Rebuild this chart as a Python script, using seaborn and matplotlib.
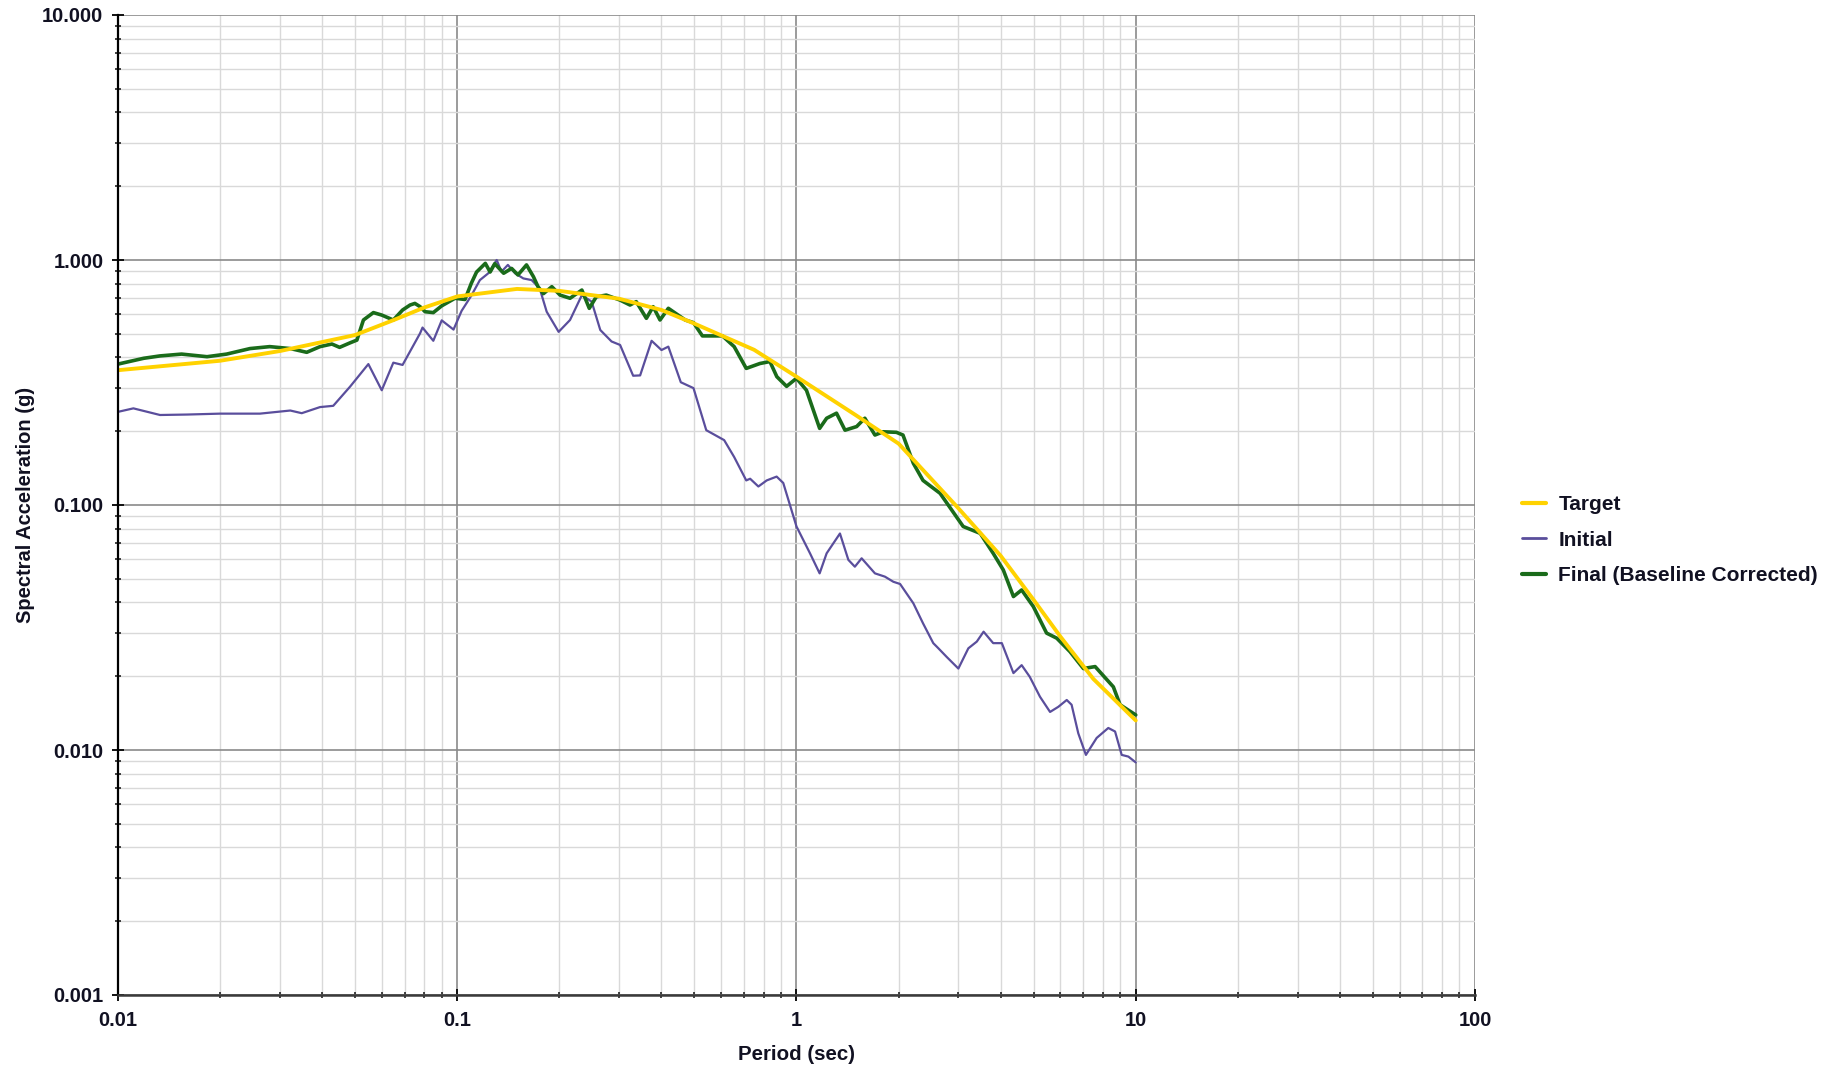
import numpy as np
import pandas as pd
import matplotlib
matplotlib.use("Agg")
import matplotlib.pyplot as plt
import matplotlib.ticker as mticker
import seaborn as sns

# ---------------- data ----------------
target_T = [0.01, 0.02, 0.03, 0.05, 0.065, 0.08, 0.1, 0.15, 0.2, 0.3, 0.4, 0.5,
            0.75, 1.0, 1.5, 2.0, 3.0, 4.0, 5.0, 6.0, 7.5, 10.0]
target_SA = [0.355, 0.388, 0.425, 0.494, 0.569, 0.64, 0.71, 0.762, 0.748, 0.695,
             0.625, 0.55, 0.43, 0.334, 0.232, 0.178, 0.097, 0.062, 0.041, 0.029,
             0.0195, 0.0132]

initial_T = [0.0100, 0.0111, 0.0133, 0.0160, 0.0200, 0.0262, 0.0322, 0.0348, 0.0394,
             0.0431, 0.0483, 0.0547, 0.0599, 0.0648, 0.0690, 0.0777, 0.0790, 0.085,
             0.090, 0.0975, 0.103, 0.110, 0.1166, 0.1235, 0.1307, 0.135, 0.141,
             0.148, 0.1566, 0.1657, 0.175, 0.1835, 0.199, 0.215, 0.233, 0.249,
             0.264, 0.285, 0.302, 0.330, 0.346, 0.374, 0.400, 0.419, 0.456, 0.497,
             0.542, 0.612, 0.655, 0.711, 0.730, 0.772, 0.817, 0.874, 0.914, 1.0,
             1.096, 1.17, 1.227, 1.343, 1.422, 1.486, 1.556, 1.703, 1.822, 1.93,
             2.02, 2.21, 2.36, 2.53, 2.62, 2.77, 3.0, 3.21, 3.40, 3.56, 3.80, 4.03,
             4.36, 4.61, 4.87, 5.22, 5.59, 5.91, 6.26, 6.47, 6.77, 7.13, 7.67, 8.30,
             8.69, 9.09, 9.51, 10.0]
initial_SA = [0.240, 0.248, 0.233, 0.234, 0.236, 0.236, 0.243, 0.237, 0.251,
              0.254, 0.304, 0.376, 0.294, 0.381, 0.373, 0.502, 0.530, 0.468,
              0.567, 0.520, 0.620, 0.715, 0.828, 0.883, 1.000, 0.896, 0.955,
              0.883, 0.841, 0.828, 0.765, 0.615, 0.509, 0.569, 0.719, 0.676,
              0.518, 0.465, 0.450, 0.337, 0.338, 0.468, 0.429, 0.443, 0.317, 0.300,
              0.202, 0.184, 0.157, 0.126, 0.128, 0.119, 0.126, 0.1306, 0.123, 0.0817,
              0.0635, 0.0526, 0.0635, 0.0765, 0.0597, 0.056, 0.0606, 0.0526, 0.051, 0.0486,
              0.0476, 0.0397, 0.0329, 0.0273, 0.026, 0.024, 0.0215, 0.026, 0.0277, 0.0304,
              0.0273, 0.0273, 0.0206, 0.0222, 0.0199, 0.0165, 0.0143, 0.0150, 0.016,
              0.0153, 0.0117, 0.00955, 0.0112, 0.0123, 0.0119, 0.00955, 0.0094, 0.0089]

final_T = [0.0100, 0.0119, 0.0133, 0.0154, 0.0183, 0.0209, 0.0245, 0.028, 0.0322,
           0.036, 0.0394, 0.0427, 0.045, 0.0483, 0.0506, 0.0529, 0.0566, 0.0599,
           0.0648, 0.0690, 0.0726, 0.075, 0.0777, 0.0804, 0.085, 0.090, 0.0985,
           0.1054, 0.110, 0.114, 0.121, 0.125, 0.129, 0.137, 0.1446, 0.151, 0.160,
           0.1677, 0.173, 0.1795, 0.190, 0.201, 0.215, 0.233, 0.245, 0.257, 0.275,
           0.302, 0.323, 0.337, 0.361, 0.378, 0.396, 0.419, 0.47, 0.497, 0.528,
           0.605, 0.655, 0.711, 0.78, 0.835, 0.875, 0.935, 1.0, 1.07, 1.17, 1.227,
           1.312, 1.39, 1.504, 1.59, 1.703, 1.80, 1.97, 2.06, 2.21, 2.36, 2.65,
           3.10, 3.48, 3.80, 4.07, 4.36, 4.61, 4.99, 5.46, 5.85, 6.40, 7.01, 7.59,
           8.59, 8.99, 10.0]
final_SA = [0.376, 0.397, 0.406, 0.413, 0.403, 0.413, 0.435, 0.443, 0.435,
            0.420, 0.443, 0.454, 0.440, 0.459, 0.471, 0.569, 0.610, 0.596,
            0.569, 0.625, 0.655, 0.665, 0.645, 0.615, 0.610, 0.650, 0.698,
            0.690, 0.803, 0.893, 0.969, 0.893, 0.966, 0.883, 0.924, 0.869, 0.955,
            0.855, 0.778, 0.729, 0.778, 0.719, 0.698, 0.754, 0.635, 0.708, 0.719,
            0.686, 0.655, 0.676, 0.578, 0.645, 0.569, 0.635, 0.569, 0.555, 0.490,
            0.490, 0.443, 0.361, 0.378, 0.385, 0.334, 0.305, 0.329, 0.294, 0.2055, 0.226,
            0.237, 0.202, 0.209, 0.226, 0.193, 0.199, 0.198, 0.193, 0.148, 0.126, 0.1116,
            0.0817, 0.0766, 0.0635, 0.0543, 0.0423, 0.045, 0.0385, 0.030, 0.0286, 0.0252,
            0.0215, 0.0219, 0.0181, 0.0153, 0.0139]

x_ticks = [0.01, 0.1, 1, 10, 100]
x_tick_labels = ["0.01", "0.1", "1", "10", "100"]
y_ticks = [0.001, 0.01, 0.1, 1, 10]
y_tick_labels = ["0.001", "0.010", "0.100", "1.000", "10.000"]

# ---------------- style ----------------
sns.set_theme(style="white")
plt.rcParams["font.family"] = ["Liberation Sans", "DejaVu Sans"]
plt.rcParams["font.weight"] = "bold"

fig = plt.figure(figsize=(18.33, 10.65), dpi=100)
ax = fig.add_axes([118 / 1833, 1 - 995 / 1065, (1475 - 118) / 1833, (995 - 15) / 1065])

df_t = pd.DataFrame({"T": target_T, "SA": target_SA})
df_i = pd.DataFrame({"T": initial_T, "SA": initial_SA})
df_f = pd.DataFrame({"T": final_T, "SA": final_SA})

c_target = "#FFD200"
c_initial = "#5A4E9C"
c_final = "#1A6B1A"

sns.lineplot(data=df_i, x="T", y="SA", ax=ax, color=c_initial, lw=1.6,
             label="Initial", zorder=3, estimator=None)
sns.lineplot(data=df_f, x="T", y="SA", ax=ax, color=c_final, lw=2.6,
             label="Final (Baseline Corrected)", zorder=4, estimator=None)
sns.lineplot(data=df_t, x="T", y="SA", ax=ax, color=c_target, lw=2.8,
             label="Target", zorder=5, estimator=None)

ax.set_xscale("log")
ax.set_yscale("log")
ax.set_xlim(0.01, 100)
ax.set_ylim(0.001, 10)

ax.xaxis.set_major_locator(mticker.FixedLocator(x_ticks))
ax.xaxis.set_major_formatter(mticker.FixedFormatter(x_tick_labels))
ax.yaxis.set_major_locator(mticker.FixedLocator(y_ticks))
ax.yaxis.set_major_formatter(mticker.FixedFormatter(y_tick_labels))
ax.xaxis.set_minor_locator(mticker.LogLocator(base=10, subs=np.arange(2, 10), numticks=20))
ax.yaxis.set_minor_locator(mticker.LogLocator(base=10, subs=np.arange(2, 10), numticks=20))
ax.xaxis.set_minor_formatter(mticker.NullFormatter())
ax.yaxis.set_minor_formatter(mticker.NullFormatter())

ax.grid(which="minor", color="#d9d9d9", lw=1.0, zorder=0)
ax.grid(which="major", color="#8a8a8a", lw=1.2, zorder=1)
ax.set_axisbelow(True)

for s in ["top", "right"]:
    ax.spines[s].set_visible(False)
ax.spines["left"].set_color("#000000")
ax.spines["left"].set_linewidth(1.6)
ax.spines["bottom"].set_color("#3a3a3a")
ax.spines["bottom"].set_linewidth(1.8)
ax.spines["left"].set_zorder(6)
ax.spines["bottom"].set_zorder(6)

ax.tick_params(axis="both", which="major", direction="inout", length=9, width=1.4,
               colors="#111111", labelsize=14.5, bottom=True, left=True)
ax.tick_params(axis="both", which="minor", direction="inout", length=5, width=1.1,
               color="#111111", bottom=True, left=True)
ax.tick_params(axis="y", which="major", pad=6)
ax.tick_params(axis="x", which="major", pad=7)
for lab in ax.get_xticklabels() + ax.get_yticklabels():
    lab.set_fontweight("bold")
    lab.set_color("#111122")

ax.set_xlabel("Period (sec)", fontsize=14.8, fontweight="bold", color="#111122")
ax.set_ylabel("Spectral Acceleration (g)", fontsize=14.5, fontweight="bold", color="#111122")
ax.xaxis.label.set_va("center")
ax.yaxis.label.set_va("center")
ax.xaxis.set_label_coords(0.5, -0.061)
ax.yaxis.set_label_coords(-0.068, 0.5)

handles, labels = ax.get_legend_handles_labels()
order = [labels.index("Target"), labels.index("Initial"), labels.index("Final (Baseline Corrected)")]
leg = ax.legend([handles[i] for i in order], [labels[i] for i in order],
                loc="center left", bbox_to_anchor=(1522 / 1833, 1 - 540 / 1065),
                bbox_transform=fig.transFigure, frameon=False, borderpad=0,
                borderaxespad=0, handlelength=1.15, handletextpad=0.6,
                labelspacing=0.8, prop={"size": 15, "weight": "bold"})
for t in leg.get_texts():
    t.set_color("#111122")
leg.get_lines()[0].set_linewidth(3.0)
leg.get_lines()[1].set_linewidth(2.0)
leg.get_lines()[2].set_linewidth(3.0)

fig.savefig("out.png", dpi=100)
